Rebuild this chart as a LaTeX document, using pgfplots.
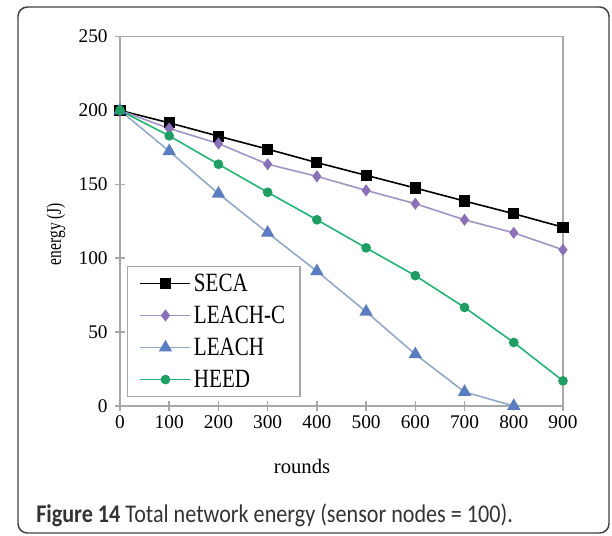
\documentclass[border=0pt]{standalone}
\usepackage{graphicx}
\usepackage{fontspec}
\setmainfont{Liberation Serif}
\newfontfamily\capfont{Carlito}
\usepackage{pgfplots}
\pgfplotsset{compat=1.18}
\definecolor{axgray}{HTML}{A8A8A8}
\definecolor{lcline}{HTML}{A393C4}
\definecolor{lcmark}{HTML}{8A70B8}
\definecolor{lline}{HTML}{92A9C8}
\definecolor{lmark}{HTML}{5A7CC2}
\definecolor{hline}{HTML}{22B573}
\definecolor{hmark}{HTML}{1E9E62}
\newcommand\leg[1]{\scalebox{1}[1.25]{#1}}
\begin{document}
\begin{tikzpicture}
\path[use as bounding box] (0,0) rectangle (459pt,-402pt);
\draw[rounded corners=7pt, line width=1.1pt, black!75] (13.5pt,-5.25pt) rectangle (456.75pt,-399.75pt);
\begin{axis}[
  at={(90pt,-304.5pt)}, anchor=south west,
  scale only axis, width=332.25pt, height=277.1pt,
  xmin=0, xmax=900, ymin=0, ymax=250,
  xtick={0,100,...,900}, ytick={0,50,...,250},
  tick pos=left, tick align=center, major tick length=7.5pt,
  axis line style={axgray, line width=1.2pt},
  every tick/.style={axgray, line width=1.1pt},
  clip=false,
  /pgf/number format/assume math mode=true,
  ticklabel style={font=\fontsize{14.5}{16}\selectfont},
  yticklabel style={xshift=-2pt},
  xlabel={rounds}, ylabel={\scalebox{0.75}[1]{energy (J)}},
  label style={font=\fontsize{15.5}{18}\selectfont},
  xlabel style={at={(axis description cs:0.411,0)}, anchor=base, yshift=-50.25pt},
  ylabel style={at={(axis description cs:-0.1445,0.4655)}, anchor=center},
  legend cell align=left,
  legend style={at={(axis description cs:0.016,0.024)}, anchor=south west,
    draw=axgray, line width=0.9pt, font=\fontsize{15.8}{18}\selectfont,
    row sep=5.5pt, inner xsep=9pt, inner ysep=3.5pt},
  legend image code/.code={\draw[mark repeat=2,mark phase=2,#1] plot coordinates {(0pt,0pt) (18.75pt,0pt) (37.5pt,0pt)};},
]
\addplot[black, line width=1.2pt, mark=square*, mark size=3.6pt] coordinates {
(0,200) (100,191.6) (200,182.6) (300,173.8) (400,164.7) (500,156.1) (600,147.5) (700,138.7) (800,130.1) (900,121)};
\addlegendentry{\leg{SECA}}
\addplot[lcline, line width=1.2pt, mark=diamond*, mark size=3.6pt, mark options={fill=lcmark, draw=lcmark}] coordinates {
(0,200) (100,187.8) (200,177.6) (300,163.6) (400,155.4) (500,145.9) (600,136.9) (700,126) (800,117.2) (900,105.7)};
\addlegendentry{\leg{LEACH-C}}
\addplot[lline, line width=1.2pt, mark=triangle*, mark size=4.6pt, mark options={fill=lmark, draw=lmark}] coordinates {
(0,200) (100,172.4) (200,143.7) (300,117.2) (400,91.2) (500,63.8) (600,35) (700,9.5) (800,0)};
\addlegendentry{\leg{LEACH}}
\addplot[hline, line width=1.2pt, mark=*, mark size=3pt, mark options={fill=hmark, draw=hmark}] coordinates {
(0,200) (100,182.8) (200,163.6) (300,144.6) (400,126) (500,107) (600,88.2) (700,66.7) (800,43) (900,17)};
\addlegendentry{\leg{HEED}}
\end{axis}
\node[anchor=base west, inner sep=0pt, text=black!80] at (27pt,-391.5pt)
  {\scalebox{1}[1.15]{\capfont\fontsize{16.6}{18}\selectfont\textbf{Figure 14} Total network energy (sensor nodes = 100).}};
\end{tikzpicture}
\end{document}
